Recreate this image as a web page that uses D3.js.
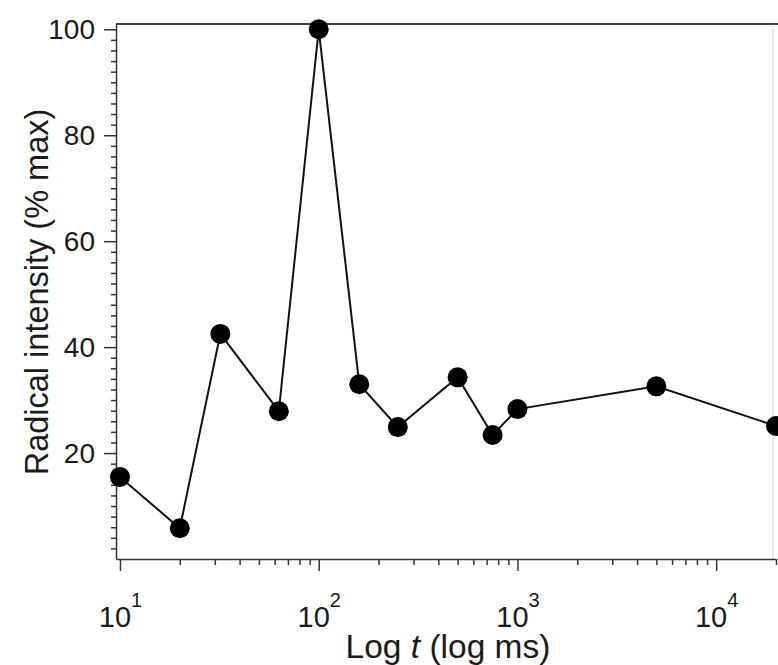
<!DOCTYPE html>
<html lang="en">
<head>
    <meta charset="UTF-8">
    <title>Radical intensity vs log t</title>
    <script src="https://d3js.org/d3.v7.min.js"></script>
    <style>
        body {
            margin: 0;
            background: #fff;
            font-family: "Liberation Sans", Arial, sans-serif;
        }
        .axis path, .axis line {
            stroke: #333;
            stroke-width: 1.5px;
        }
        .axis text {
            fill: #1a1a1a;
            font-family: "Liberation Sans", Arial, sans-serif;
        }
    </style>
</head>
<body>
    <div id="chart"></div>

    <script>
        // time (ms) and radical intensity (% of max)
        const times = [10, 20, 32, 63, 100, 160, 250, 500, 750, 1000, 5000, 20000];
        const intensity = [15.5, 5.8, 42.5, 27.9, 100, 33.0, 24.9, 34.3, 23.4, 28.3, 32.6, 25.1];

        const yTicks = [20, 40, 60, 80, 100];
        const xTicks = [10, 100, 1000, 10000];

        const data = times.map((t, i) => ({ t: t, v: intensity[i] }));

        const width = 778;
        const height = 665;

        const svg = d3.select("#chart")
            .append("svg")
            .attr("width", width)
            .attr("height", height);

        const x = d3.scaleLog()
            .domain([9.55, 20000])
            .range([116, 776]);

        const y = d3.scaleLinear()
            .domain([0, 101])
            .range([559, 24]);

        // frame (top dark, right faint)
        svg.append("line")
            .attr("x1", x.range()[0]).attr("x2", width)
            .attr("y1", y.range()[1]).attr("y2", y.range()[1])
            .attr("stroke", "#444").attr("stroke-width", 2);
        svg.append("line")
            .attr("x1", 773).attr("x2", 773)
            .attr("y1", y.range()[1] + 2).attr("y2", y.range()[0])
            .attr("stroke", "#e2e2e2").attr("stroke-width", 1.5);

        // y axis: minor ticks every 2, major every 20
        const yMinor = d3.range(2, 100, 2).filter(d => d % 20 !== 0);
        svg.append("g")
            .attr("class", "axis")
            .attr("transform", `translate(${x.range()[0]},0)`)
            .call(d3.axisLeft(y).tickValues(yMinor).tickSize(5).tickSizeOuter(0).tickFormat(""));

        const yAxis = svg.append("g")
            .attr("class", "axis")
            .attr("transform", `translate(${x.range()[0]},0)`)
            .call(d3.axisLeft(y).tickValues(yTicks).tickSize(12).tickSizeOuter(0).tickPadding(9));
        yAxis.selectAll("text").style("font-size", "28px");
        yAxis.select(".domain").remove();

        // x axis: minor ticks at 2..9 of each decade
        const xMinor = [];
        [10, 100, 1000, 10000].forEach(d => {
            for (let k = 2; k <= 9; k++) if (d * k <= 20000) xMinor.push(d * k);
        });
        svg.append("g")
            .attr("class", "axis")
            .attr("transform", `translate(0,${y.range()[0]})`)
            .call(d3.axisBottom(x).tickValues(xMinor).tickSize(6).tickSizeOuter(0).tickFormat(""));

        const xAxis = svg.append("g")
            .attr("class", "axis")
            .attr("transform", `translate(0,${y.range()[0]})`)
            .call(d3.axisBottom(x).tickValues(xTicks).tickSize(12).tickSizeOuter(0).tickFormat(""));
        xAxis.select(".domain").remove();

        xAxis.selectAll(".tick").each(function (d) {
            const txt = d3.select(this).append("text")
                .attr("y", 68)
                .attr("text-anchor", "middle")
                .style("font-size", "29px");
            txt.append("tspan").text("10");
            txt.append("tspan")
                .attr("dy", -20)
                .style("font-size", "20px")
                .text(Math.round(Math.log10(d)));
        });

        // axis titles
        svg.append("text")
            .attr("transform", `translate(48,292) rotate(-90)`)
            .attr("text-anchor", "middle")
            .style("font-size", "32.5px")
            .style("fill", "#1a1a1a")
            .text("Radical intensity (% max)");

        const xTitle = svg.append("text")
            .attr("x", 448)
            .attr("y", 658)
            .attr("text-anchor", "middle")
            .style("font-size", "33.5px")
            .style("fill", "#1a1a1a");
        xTitle.append("tspan").text("Log ");
        xTitle.append("tspan").style("font-style", "italic").text("t");
        xTitle.append("tspan").text(" (log ms)");

        // data line and markers
        const line = d3.line()
            .x(d => x(d.t))
            .y(d => y(d.v));

        svg.append("path")
            .datum(data)
            .attr("fill", "none")
            .attr("stroke", "#111")
            .attr("stroke-width", 2)
            .attr("d", line);

        svg.selectAll("circle")
            .data(data)
            .enter()
            .append("circle")
            .attr("cx", d => x(d.t))
            .attr("cy", d => y(d.v))
            .attr("r", 10)
            .attr("fill", "#000");
    </script>
</body>
</html>
